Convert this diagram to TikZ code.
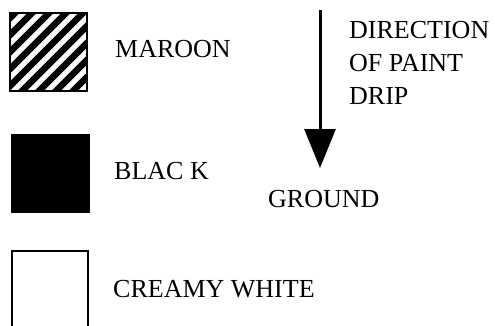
\documentclass[tikz,border=0pt]{standalone}
\usepackage{fontspec}
\setmainfont{Liberation Serif}
\usetikzlibrary{arrows.meta,positioning}

\tikzset{
  label/.style={anchor=base west, inner sep=0pt, font=\fontsize{26}{33}\selectfont},
  swatch/.style={line width=2pt}
}

\begin{document}
\begin{tikzpicture}[x=1pt,y=-1pt]
\useasboundingbox (0,0) rectangle (495,325);

% legend swatches
\begin{scope}
\clip (10,13) rectangle (87,91);
\foreach \c in {28,45,...,164}
  \draw[line width=6.5pt] (\c+10,-10) -- (\c-110,110);
\end{scope}
\draw[swatch] (10,13) rectangle (87,91);
\filldraw[swatch] (12,135) rectangle (89,212);
\draw[swatch] (12,330) -- (12,251) -- (88,251) -- (88,330);

\node[label] (maroon) at (115,57) {MAROON};
\node[label] (black) at (114,179) {BLAC K};
\node[label] (white) at (113,297) {CREAMY WHITE};

% paint drip
\coordinate (dripstart) at (320,10);
\coordinate (dripend) at (320,168);
\draw[line width=3pt, -{Triangle[length=39pt,width=31pt]}] (dripstart) -- (dripend);

\node[label, anchor=north west, align=left] (direction) at (349,21) {DIRECTION\\OF PAINT\\DRIP};
\node[label] (ground) at (268,207) {GROUND};
\end{tikzpicture}
\end{document}
